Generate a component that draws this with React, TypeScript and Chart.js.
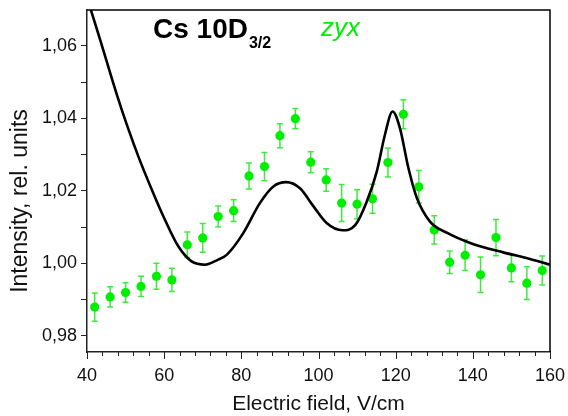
import React, { useEffect, useRef } from "react";
import { Chart, registerables } from "chart.js";

Chart.register(...registerables);

// Measured data (electric field, V/cm)
const fieldValues = [42, 46, 50, 54, 58, 62, 66, 70, 74, 78, 82, 86, 90, 94, 98, 102, 106, 110, 114, 118, 122, 126, 130, 134, 138, 142, 146, 150, 154, 158];
const intensityValues = [0.9879, 0.9907, 0.9919, 0.9936, 0.9964, 0.9954, 1.0051, 1.007, 1.0129, 1.0145, 1.0241, 1.0267, 1.0352, 1.0399, 1.0279, 1.023, 1.0166, 1.0163, 1.0178, 1.0278, 1.0411, 1.0211, 1.0092, 1.0003, 1.0022, 0.9968, 1.0071, 0.9987, 0.9945, 0.998];
const intensityErrors = [0.0039, 0.0028, 0.0027, 0.0028, 0.0036, 0.0032, 0.0035, 0.004, 0.0029, 0.003, 0.0036, 0.0039, 0.0033, 0.0028, 0.0029, 0.0031, 0.0051, 0.004, 0.004, 0.004, 0.004, 0.0045, 0.0039, 0.0031, 0.0042, 0.0049, 0.005, 0.0038, 0.0045, 0.004];

// Theoretical curve
const fitField = [40, 41.0, 44.2, 47.9, 50.5, 53.3, 56.8, 60.2, 63.7, 67.1, 70.6, 74.0, 76.2, 80.5, 84.8, 88.3, 91.6, 95.2, 98.7, 102.1, 106.2, 109.5, 112.5, 115.1, 117.2, 119.2, 121.1, 123.3, 125.5, 128.9, 133.5, 139.3, 147.9, 154.8, 160];
const fitIntensity = [1.073, 1.0699, 1.0589, 1.046, 1.0377, 1.0295, 1.0203, 1.012, 1.0046, 1.0005, 0.9996, 1.001, 1.0023, 1.0083, 1.0166, 1.0212, 1.0224, 1.0207, 1.0157, 1.0111, 1.0091, 1.0105, 1.017, 1.0253, 1.0354, 1.0419, 1.0373, 1.0263, 1.018, 1.0115, 1.0083, 1.0056, 1.003, 1.0012, 0.9996];

// Axes
const xRange = [40, 160];
const yRange = [0.9755, 1.0699];
const xTickValues = [40, 44, 48, 52, 56, 60, 64, 68, 72, 76, 80, 84, 88, 92, 96, 100, 104, 108, 112, 116, 120, 124, 128, 132, 136, 140, 144, 148, 152, 156, 160];
const xMajorTicks = [40, 60, 80, 100, 120, 140, 160];
const yTickValues = [0.98, 0.99, 1.0, 1.01, 1.02, 1.03, 1.04, 1.05, 1.06];
const yMajorTicks = [0.98, 1.0, 1.02, 1.04, 1.06];

const FONT = '"Liberation Sans", Arial, sans-serif';
const GREEN = "#00ee00";
const AXIS = "#222";

const isMajor = (v: number, majors: number[]) => majors.some((m) => Math.abs(m - v) < 1e-9);

const errorBarPlugin = {
  id: "errorBars",
  beforeDatasetDraw(chart: any, args: any) {
    if (args.index !== 1) return;
    const { ctx, chartArea, scales } = chart;
    const xs = scales.x;
    const ys = scales.y;
    ctx.save();
    ctx.beginPath();
    ctx.rect(chartArea.left, chartArea.top, chartArea.right - chartArea.left, chartArea.bottom - chartArea.top);
    ctx.clip();
    ctx.strokeStyle = "rgba(0,225,0,0.75)";
    ctx.lineWidth = 1.5;
    for (let i = 0; i < fieldValues.length; i++) {
      const px = xs.getPixelForValue(fieldValues[i]);
      const top = ys.getPixelForValue(intensityValues[i] + intensityErrors[i]);
      const bot = ys.getPixelForValue(intensityValues[i] - intensityErrors[i]);
      ctx.beginPath();
      ctx.moveTo(px, top);
      ctx.lineTo(px, bot);
      ctx.moveTo(px - 3, top);
      ctx.lineTo(px + 3, top);
      ctx.moveTo(px - 3, bot);
      ctx.lineTo(px + 3, bot);
      ctx.stroke();
    }
    ctx.restore();
  },
};

const framePlugin = {
  id: "frame",
  afterDraw(chart: any) {
    const { ctx, chartArea, scales } = chart;
    ctx.save();
    ctx.strokeStyle = "#000";
    ctx.lineWidth = 1.5;
    ctx.beginPath();
    ctx.moveTo(chartArea.left, chartArea.top);
    ctx.lineTo(chartArea.right, chartArea.top);
    ctx.lineTo(chartArea.right, chartArea.bottom);
    ctx.stroke();

    // x-axis tick marks (major longer than minor)
    ctx.strokeStyle = AXIS;
    ctx.lineWidth = 1;
    ctx.beginPath();
    for (const v of xTickValues) {
      const px = Math.round(scales.x.getPixelForValue(v)) + 0.5;
      const len = isMajor(v, xMajorTicks) ? 7 : 4;
      ctx.moveTo(px, chartArea.bottom);
      ctx.lineTo(px, chartArea.bottom + len);
    }
    ctx.stroke();

    // y-axis title
    ctx.fillStyle = "#111";
    ctx.font = `23px ${FONT}`;
    ctx.textAlign = "center";
    ctx.textBaseline = "middle";
    ctx.translate(21, 201);
    ctx.rotate(-Math.PI / 2);
    ctx.fillText("Intensity, rel. units", 0, 0);
    ctx.setTransform(1, 0, 0, 1, 0, 0);

    // Annotations
    ctx.textAlign = "left";
    ctx.fillStyle = "#000";
    ctx.textBaseline = "alphabetic";
    ctx.font = `bold 28px ${FONT}`;
    const main = "Cs 10D";
    ctx.fillText(main, 153, 38);
    const w = ctx.measureText(main).width;
    ctx.font = `bold 16px ${FONT}`;
    ctx.fillText("3/2", 153 + w + 1, 48);
    ctx.fillStyle = GREEN;
    ctx.font = `italic 26px ${FONT}`;
    ctx.fillText("zyx", 321, 36);
    ctx.restore();
  },
};

export default function App() {
  const canvasRef = useRef<HTMLCanvasElement | null>(null);

  useEffect(() => {
    const canvas = canvasRef.current;
    if (!canvas) return;
    const chart = new Chart(canvas, {
      type: "scatter",
      data: {
        datasets: [
          {
            label: "fit",
            data: fitField.map((x, i) => ({ x, y: fitIntensity[i] })),
            showLine: true,
            borderColor: "#000",
            borderWidth: 2.6,
            pointRadius: 0,
            cubicInterpolationMode: "monotone",
            fill: false,
          } as any,
          {
            label: "zyx",
            data: fieldValues.map((x, i) => ({ x, y: intensityValues[i] })),
            backgroundColor: GREEN,
            borderWidth: 0,
            pointRadius: 4.6,
          },
        ],
      },
      options: {
        animation: false,
        responsive: false,
        maintainAspectRatio: false,
        layout: { padding: { left: 0, top: 10, right: 18, bottom: 0 } },
        plugins: {
          legend: { display: false },
          tooltip: { enabled: false },
        },
        scales: {
          x: {
            type: "linear",
            min: xRange[0],
            max: xRange[1],
            afterBuildTicks: (scale: any) => {
              scale.ticks = xTickValues.map((v) => ({ value: v }));
            },
            afterFit: (scale: any) => {
              scale.height = 64;
              scale.paddingLeft = 0;
              scale.paddingRight = 0;
            },
            border: { display: true, color: AXIS, width: 1.5 },
            grid: { display: false, drawOnChartArea: false, drawTicks: true, tickLength: 7 },
            ticks: {
              autoSkip: false,
              maxRotation: 0,
              padding: 6,
              color: "#111",
              font: { family: FONT, size: 18 },
              callback: (v: any) => (isMajor(Number(v), xMajorTicks) ? String(v) : ""),
            },
            title: {
              display: true,
              text: "Electric field, V/cm",
              color: "#111",
              font: { family: FONT, size: 21, lineHeight: 1.1 },
              padding: { top: 0, bottom: 0 },
            },
          },
          y: {
            type: "linear",
            min: yRange[0],
            max: yRange[1],
            afterBuildTicks: (scale: any) => {
              scale.ticks = yTickValues.map((v) => ({ value: v }));
            },
            afterFit: (scale: any) => {
              scale.width = 87;
              scale.paddingTop = 0;
              scale.paddingBottom = 0;
            },
            border: { display: true, color: AXIS, width: 1.5 },
            grid: { display: true, drawOnChartArea: false, drawTicks: true, tickLength: 6, color: AXIS, lineWidth: 1 },
            ticks: {
              autoSkip: false,
              padding: 4,
              color: "#111",
              font: { family: FONT, size: 18 },
              callback: (v: any) => (isMajor(Number(v), yMajorTicks) ? Number(v).toFixed(2).replace(".", ",") : ""),
            },
            title: { display: false },
          },
        },
      },
      plugins: [errorBarPlugin, framePlugin],
    });
    return () => chart.destroy();
  }, []);

  return (
    <div style={{ position: "fixed", left: 0, top: 0, width: 568, height: 416, background: "#fff" }}>
      <canvas ref={canvasRef} width={568} height={416} style={{ width: 568, height: 416, display: "block" }} />
    </div>
  );
}
